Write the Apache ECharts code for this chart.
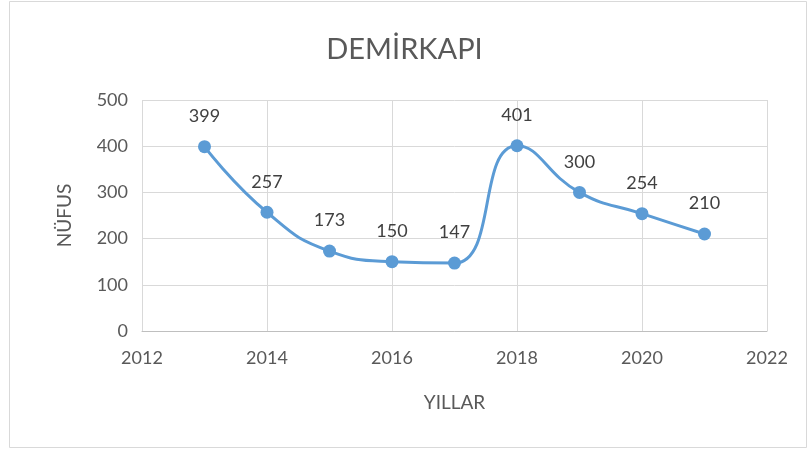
<!DOCTYPE html>
<html>
<head>
<meta charset="utf-8">
<script src="https://cdn.jsdelivr.net/npm/echarts@6/dist/echarts.min.js"></script>
<style>
  html, body { margin: 0; padding: 0; background: #fff; }
  #main { width: 809px; height: 450px; }
</style>
</head>
<body>
<div id="main"></div>
<script>
// yıllar ve nüfus
var years = [2013, 2014, 2015, 2016, 2017, 2018, 2019, 2020, 2021]
var nufus = [399, 257, 173, 150, 147, 401, 300, 254, 210]

var points = years.map(function (y, i) { return [y, nufus[i]] })

var chart = echarts.init(document.getElementById('main'))
var font = 'Lato, "Noto Sans", sans-serif'

chart.setOption({
  backgroundColor: '#fff',
  animation: false,
  textStyle: { fontFamily: font },
  title: {
    text: 'DEMİRKAPI',
    left: 'center',
    top: 30,
    textStyle: { fontFamily: font, fontSize: 29, fontWeight: 'normal', color: '#595959' }
  },
  graphic: [{
    type: 'rect',
    shape: { x: 9.5, y: 1.5, width: 797, height: 446 },
    style: { fill: 'none', stroke: '#d9d9d9', lineWidth: 1 }
  }],
  grid: { left: 142, right: 42, top: 100, bottom: 119 },
  xAxis: {
    type: 'value',
    min: 2012,
    max: 2022,
    interval: 2,
    name: 'YILLAR',
    nameLocation: 'middle',
    nameGap: 62,
    nameTextStyle: { fontSize: 19, color: '#595959' },
    axisLine: { show: true, lineStyle: { color: '#bfbfbf', width: 1 } },
    axisTick: { show: false },
    axisLabel: { fontSize: 18, color: '#595959', margin: 18, formatter: function (v) { return String(v) } },
    splitLine: { show: true, lineStyle: { color: '#d9d9d9' } }
  },
  yAxis: {
    type: 'value',
    min: 0,
    max: 500,
    interval: 100,
    name: 'NÜFUS',
    nameLocation: 'middle',
    nameGap: 68,
    nameTextStyle: { fontSize: 19, color: '#595959' },
    axisLine: { show: false },
    axisTick: { show: false },
    axisLabel: { fontSize: 18, color: '#595959', margin: 14 },
    splitLine: { show: true, lineStyle: { color: '#d9d9d9' } }
  },
  series: [{
    type: 'line',
    data: points,
    smooth: 0.5,
    symbol: 'circle',
    symbolSize: 13,
    lineStyle: { color: '#5b9bd5', width: 3 },
    itemStyle: { color: '#5b9bd5' },
    label: {
      show: true,
      position: 'top',
      distance: 15,
      fontSize: 18,
      color: '#404040'
    }
  }]
})
</script>
</body>
</html>
